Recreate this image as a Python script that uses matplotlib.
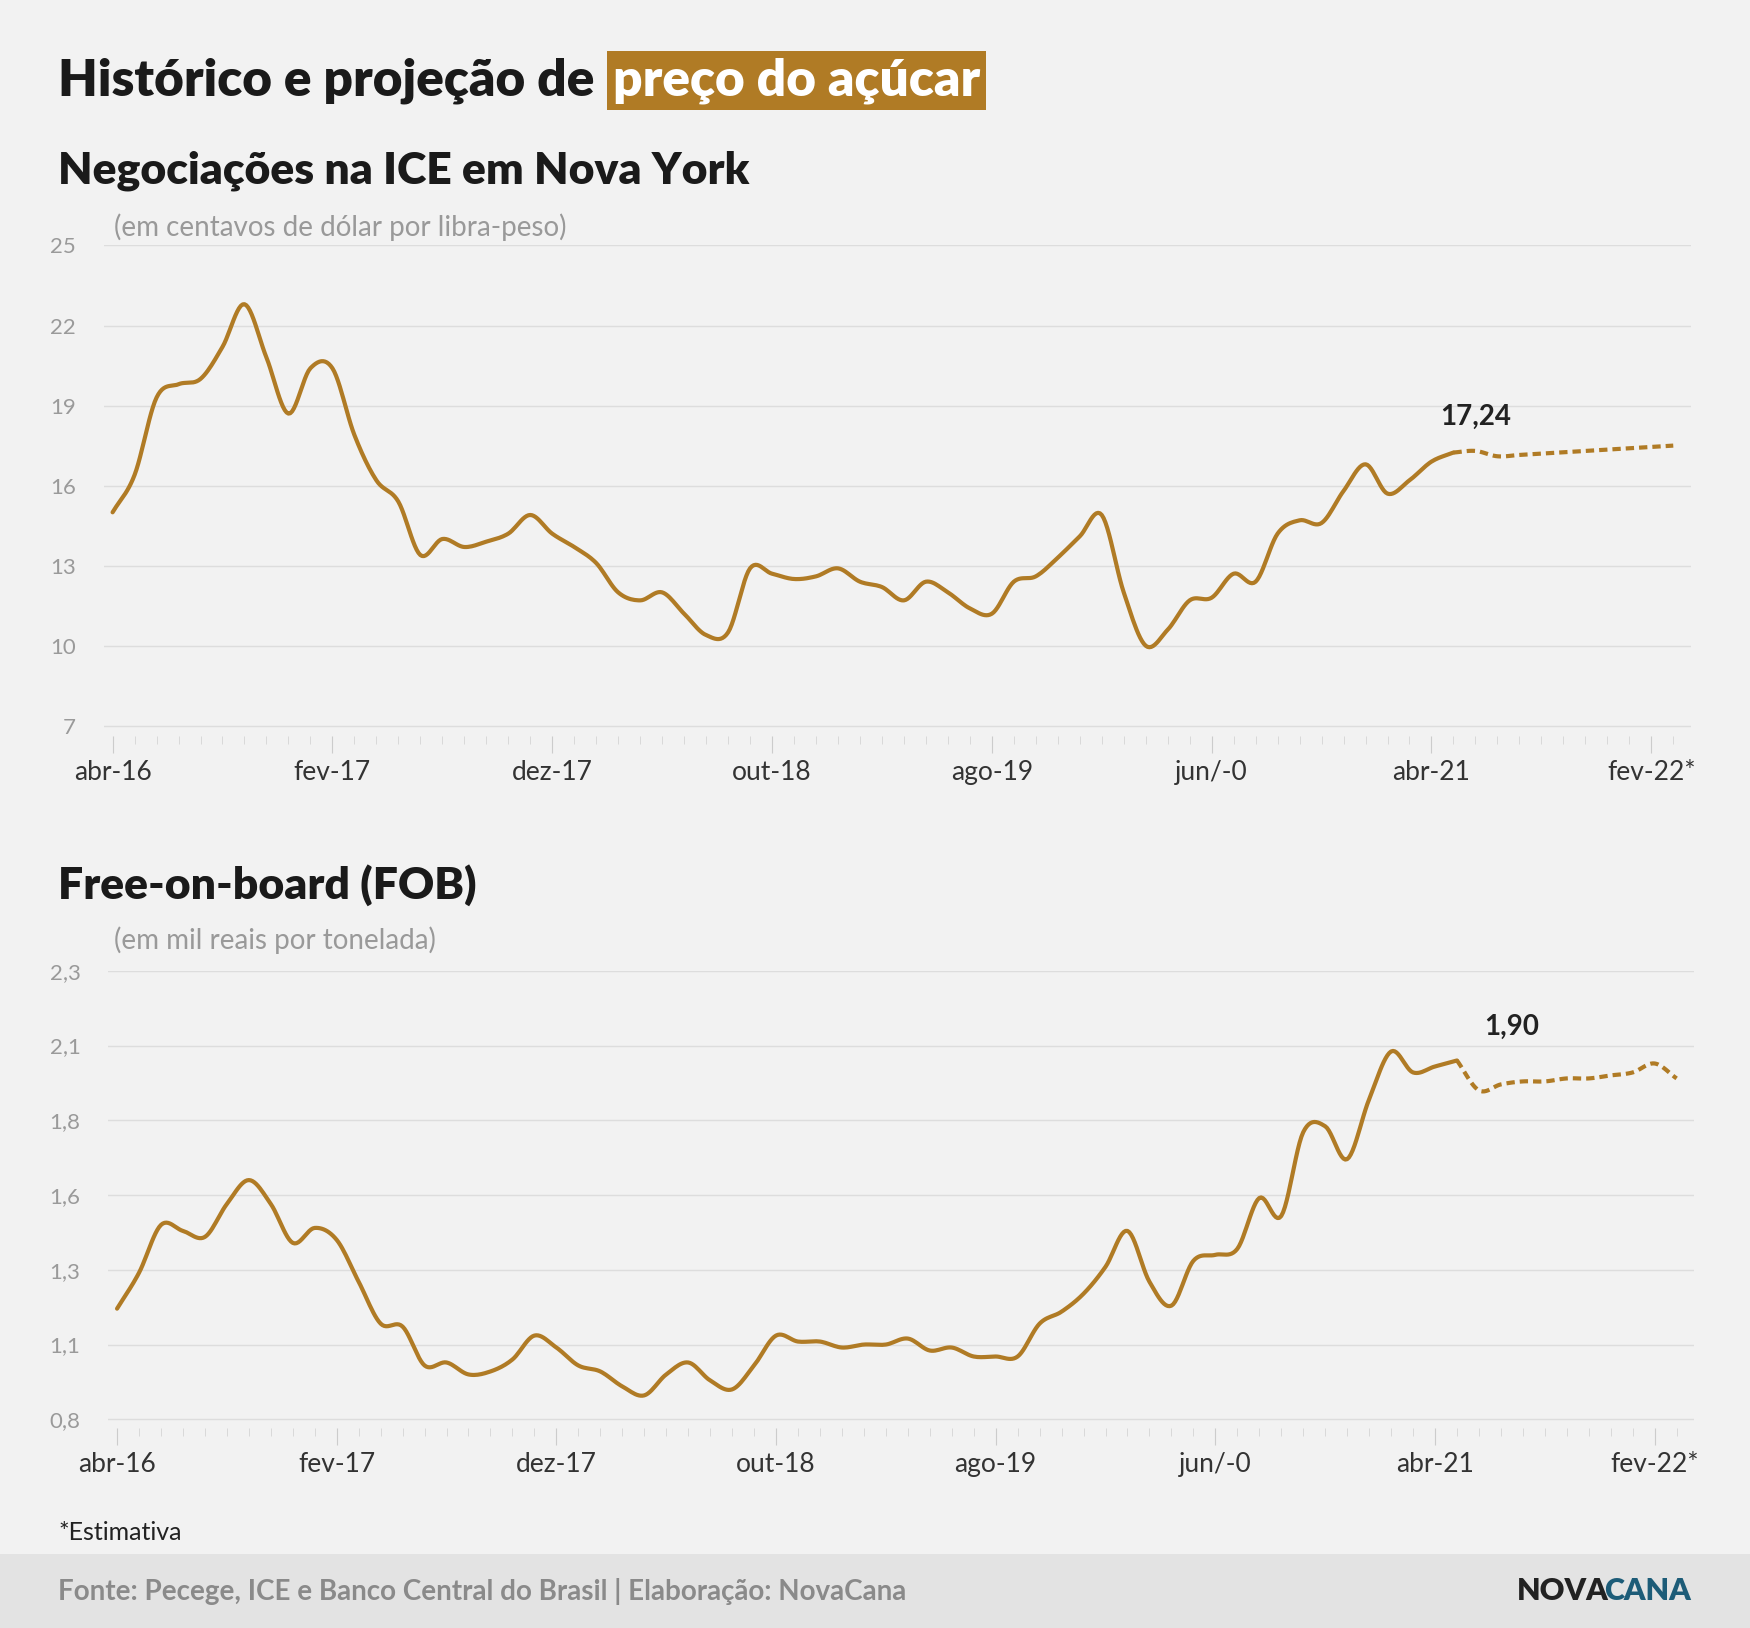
import numpy as np
import matplotlib
matplotlib.use("Agg")
import matplotlib.pyplot as plt
from matplotlib.patches import Rectangle

plt.rcParams['font.family'] = ['Lato', 'DejaVu Sans']

tick_labels = ['abr-16', 'fev-17', 'dez-17', 'out-18', 'ago-19', 'jun/-0', 'abr-21', 'fev-22*']
tick_idx = [0, 10, 20, 30, 40, 50, 60, 70]

ice_hist = [15.0, 16.4, 19.3, 19.8, 20.0, 21.2, 22.8, 20.8, 18.7, 20.4, 20.4, 17.9, 16.2, 15.4, 13.4,
            14.0, 13.7, 13.9, 14.2, 14.9, 14.2, 13.7, 13.1, 12.0, 11.7, 12.0, 11.2, 10.4, 10.5, 12.9,
            12.7, 12.5, 12.6, 12.9, 12.4, 12.2, 11.7, 12.4, 12.0, 11.4, 11.2, 12.4, 12.6, 13.3, 14.1,
            14.9, 12.0, 10.0, 10.6, 11.7, 11.8, 12.7, 12.4, 14.2, 14.7, 14.6, 15.8, 16.8, 15.7, 16.2,
            16.9, 17.24]
ice_proj = [17.24, 17.3, 17.1, 17.15, 17.2, 17.25, 17.3, 17.35, 17.4, 17.45, 17.5]

fob_hist = [1.17, 1.29, 1.45, 1.43, 1.41, 1.52, 1.60, 1.52, 1.39, 1.44, 1.40, 1.26, 1.12, 1.11, 0.98,
            0.99, 0.95, 0.96, 1.00, 1.08, 1.04, 0.98, 0.96, 0.91, 0.88, 0.95, 0.99, 0.93, 0.90, 0.98,
            1.08, 1.06, 1.06, 1.04, 1.05, 1.05, 1.07, 1.03, 1.04, 1.01, 1.01, 1.01, 1.12, 1.16, 1.22,
            1.31, 1.43, 1.26, 1.18, 1.33, 1.35, 1.37, 1.54, 1.48, 1.76, 1.78, 1.67, 1.87, 2.03, 1.96,
            1.98, 2.00]
fob_proj = [2.00, 1.90, 1.92, 1.93, 1.93, 1.94, 1.94, 1.95, 1.96, 1.99, 1.94]

GOLD = '#b07b25'
BG = '#f2f2f2'
W, H = 1568, 1459


def smooth(xs, ys, n=12):
    xs = np.asarray(xs, float); ys = np.asarray(ys, float)
    px = np.concatenate([[2*xs[0]-xs[1]], xs, [2*xs[-1]-xs[-2]]])
    py = np.concatenate([[2*ys[0]-ys[1]], ys, [2*ys[-1]-ys[-2]]])
    ox, oy = [], []
    for i in range(1, len(px)-2):
        t = np.linspace(0, 1, n, endpoint=False)
        for arr, out in ((px, ox), (py, oy)):
            p0, p1, p2, p3 = arr[i-1], arr[i], arr[i+1], arr[i+2]
            out.extend(0.5*((2*p1) + (-p0+p2)*t + (2*p0-5*p1+4*p2-p3)*t**2 + (-p0+3*p1-3*p2+p3)*t**3))
    ox.append(xs[-1]); oy.append(ys[-1])
    return np.array(ox), np.array(oy)


fig = plt.figure(figsize=(17.5, 16.28), dpi=100, facecolor=BG)


def ax_at(x0, y0, x1, y1):
    return fig.add_axes([x0/W, 1-y1/H, (x1-x0)/W, (y1-y0)/H])


def setup(ax, yticks, ylabels, ylim):
    ax.set_facecolor(BG)
    for s in ax.spines.values():
        s.set_visible(False)
    ax.set_ylim(*ylim)
    ax.set_xlim(-0.4, 71.8)
    ax.set_yticks(yticks)
    ax.set_yticklabels(ylabels)
    ax.grid(axis='y', color='#dddddd', lw=1)
    ax.tick_params(axis='y', length=0, labelsize=16, labelcolor='#9a9a9a', pad=20)
    ax.set_xticks(tick_idx)
    ax.set_xticklabels(tick_labels)
    ax.set_xticks(np.arange(0, 72), minor=True)
    ax.tick_params(axis='x', which='major', length=12, color='#cccccc', labelsize=19, labelcolor='#333333', pad=5)
    ax.tick_params(axis='x', which='minor', length=6, color='#d5d5d5')
    ax.set_axisbelow(True)


ax1 = ax_at(93, 220, 1515, 660)
setup(ax1, [7, 10, 13, 16, 19, 22, 25], ['7', '10', '13', '16', '19', '22', '25'], (6.6, 25))
x, y = smooth(range(len(ice_hist)), ice_hist)
ax1.plot(x, y, color=GOLD, lw=3, solid_capstyle='round')
n0 = len(ice_hist) - 1
x, y = smooth(range(n0, n0 + len(ice_proj)), ice_proj)
ax1.plot(x, y, color=GOLD, lw=3, ls=(0, (2, 1.2)))
ax1.text(n0 + 1, 18.1, '17,24', fontsize=20, fontweight='bold', color='#222222', ha='center', va='bottom')

ax2 = ax_at(97, 870, 1518, 1280)
fy = np.linspace(0.8, 2.3, 7)
setup(ax2, fy, ['0,8', '1,1', '1,3', '1,6', '1,8', '2,1', '2,3'], (0.77, 2.3))
x, y = smooth(range(len(fob_hist)), fob_hist)
ax2.plot(x, y, color=GOLD, lw=3, solid_capstyle='round')
n0 = len(fob_hist) - 1
x, y = smooth(range(n0, n0 + len(fob_proj)), fob_proj)
ax2.plot(x, y, color=GOLD, lw=3, ls=(0, (2, 1.2)))
ax2.text(63.5, 2.07, '1,90', fontsize=20, fontweight='bold', color='#222222', ha='center', va='bottom')

def ftext(x, y, s, **kw):
    return fig.text(x/W, 1-y/H, s, **kw)

ftext(52, 72, 'Histórico e projeção de', fontsize=37, fontweight='heavy', color='#1a1a1a', va='center')
ftext(549, 72, 'preço do açúcar', fontsize=37, fontweight='heavy', color='white', va='center',
      bbox=dict(boxstyle='square,pad=0.12', fc='#b07b25', ec='none'))
ftext(52, 153, 'Negociações na ICE em Nova York', fontsize=32, fontweight='heavy', color='#1a1a1a', va='center')
ftext(102, 204, '(em centavos de dólar por libra-peso)', fontsize=20, color='#999999', va='center')
ftext(52, 793, 'Free-on-board (FOB)', fontsize=32, fontweight='heavy', color='#1a1a1a', va='center')
ftext(102, 843, '(em mil reais por tonelada)', fontsize=20, color='#999999', va='center')
ftext(52, 1373, '*Estimativa', fontsize=18, color='#222222', va='center')

fig.patches.append(Rectangle((0, 0), 1, 1-1393/H, transform=fig.transFigure, fc='#e3e3e3', ec='none', zorder=0))
ftext(52, 1426, 'Fonte: Pecege, ICE e Banco Central do Brasil | Elaboração: NovaCana', fontsize=20,
      fontweight='bold', color='#8a8a8a', va='center')
ftext(1515, 1426, 'CANA', fontsize=22, fontweight='heavy', color='#1d5c78', va='center', ha='right')
ftext(1441, 1426, 'NOVA', fontsize=22, fontweight='heavy', color='#222222', va='center', ha='right')

fig.savefig('out.png', dpi=100, facecolor=BG)
